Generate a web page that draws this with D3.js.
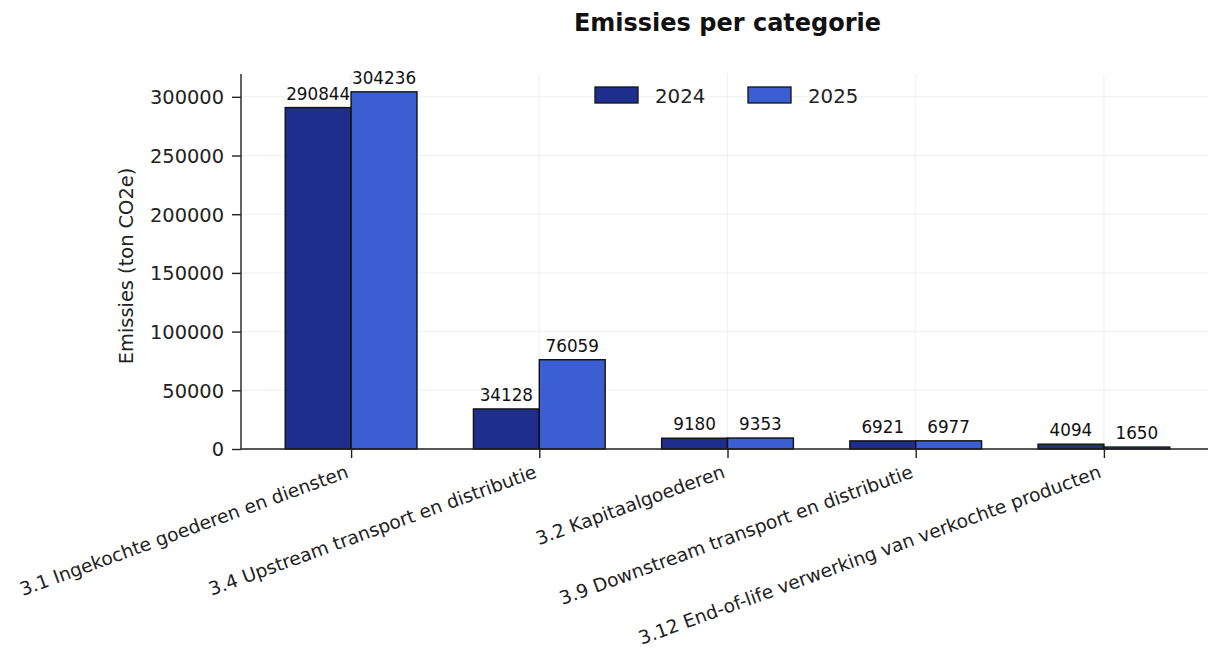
<!DOCTYPE html>
<html><head><meta charset="utf-8">
<script src="https://cdn.jsdelivr.net/npm/d3@7"></script>
<style>body{margin:0;background:#fff}svg{font-family:"DejaVu Sans",sans-serif}</style>
</head><body><svg id="c" width="1208" height="653"></svg>
<script>
const categories = ["3.1 Ingekochte goederen en diensten","3.4 Upstream transport en distributie","3.2 Kapitaalgoederen","3.9 Downstream transport en distributie","3.12 End-of-life verwerking van verkochte producten"];
const series = ["2024","2025"];
const values2024 = [290844,34128,9180,6921,4094];
const values2025 = [304236,76059,9353,6977,1650];
const yTicks = [0,50000,100000,150000,200000,250000,300000];
const colors = ["#1f2e8c","#3b5fd2"];

const svg = d3.select("#c");
const L=241, R=1214, T=74, B=449;
const n = categories.length;
const x = d3.scaleLinear().domain([-0.585, n-1+0.585]).range([L,R]);
const y = d3.scaleLinear().domain([0, d3.max(values2025.concat(values2024))*1.05]).range([B,T]);
const bw = 0.35;

// grid
const g = svg.append("g");
g.selectAll(".hg").data(yTicks).join("line").attr("x1",L).attr("x2",R).attr("y1",d=>y(d)).attr("y2",d=>y(d)).attr("stroke","#ebebeb").attr("stroke-width",0.8);
g.selectAll(".vg").data(d3.range(n)).join("line").attr("y1",T).attr("y2",B).attr("x1",d=>x(d)).attr("x2",d=>x(d)).attr("stroke","#ebebeb").attr("stroke-width",0.8);

// bars
const data = [values2024, values2025];
data.forEach((vals,si)=>{
  const off = si===0 ? -bw/2 : bw/2;
  svg.append("g").selectAll("rect").data(vals).join("rect")
    .attr("x",(d,i)=>x(i+off-bw/2)).attr("width",x(bw)-x(0))
    .attr("y",d=>y(d)).attr("height",d=>B-y(d))
    .attr("fill",colors[si]).attr("stroke","#111").attr("stroke-width",1.4);
  svg.append("g").selectAll("text").data(vals).join("text")
    .attr("x",(d,i)=>x(i+off)).attr("y",d=>y(d)-8)
    .attr("text-anchor","middle").attr("font-size",16.8).attr("fill","#111").text(d=>d);
});

// axes
const ya = d3.axisLeft(y).tickValues(yTicks).tickSize(9).tickPadding(8).tickFormat(d3.format("d"));
const yg = svg.append("g").attr("transform",`translate(${L},0)`).call(ya);
yg.select(".domain").attr("d",`M0,${T}V${B}`).attr("stroke","#222").attr("stroke-width",1.4);
yg.selectAll(".tick line").attr("stroke","#222").attr("stroke-width",1.4);
yg.selectAll(".tick text").attr("font-size",19.4).attr("fill","#222").attr("font-family","DejaVu Sans").attr("dy","0.35em");

const xa = d3.axisBottom(x).tickValues(d3.range(n)).tickSize(9).tickFormat(i=>categories[i]);
const xg = svg.append("g").attr("transform",`translate(0,${B})`).call(xa);
xg.select(".domain").attr("d",`M${L},0H${R}`).attr("stroke","#222").attr("stroke-width",1.4);
xg.selectAll(".tick line").attr("stroke","#222").attr("stroke-width",1.4);
xg.selectAll(".tick text").attr("font-size",18.6).attr("fill","#222").attr("font-family","DejaVu Sans")
  .attr("text-anchor","end").attr("y",0).attr("dy",0)
  .attr("transform","translate(-2,28) rotate(-20)");

// y label
svg.append("text").attr("transform",`translate(133,266) rotate(-90)`).attr("text-anchor","middle")
  .attr("font-size",19.4).attr("fill","#222").text("Emissies (ton CO2e)");

// title
svg.append("text").attr("x",(L+R)/2).attr("y",31).attr("text-anchor","middle").attr("font-size",24).attr("font-weight","bold").attr("fill","#111").text("Emissies per categorie");

// legend
const lg = svg.append("g");
const lx = [595, 748];
series.forEach((s,i)=>{
  lg.append("rect").attr("x",lx[i]).attr("y",87).attr("width",43).attr("height",16).attr("fill",colors[i]).attr("stroke","#111").attr("stroke-width",1.3);
  lg.append("text").attr("x",lx[i]+60).attr("y",103).attr("font-size",19.8).attr("fill","#222").text(s);
});
</script></body></html>
